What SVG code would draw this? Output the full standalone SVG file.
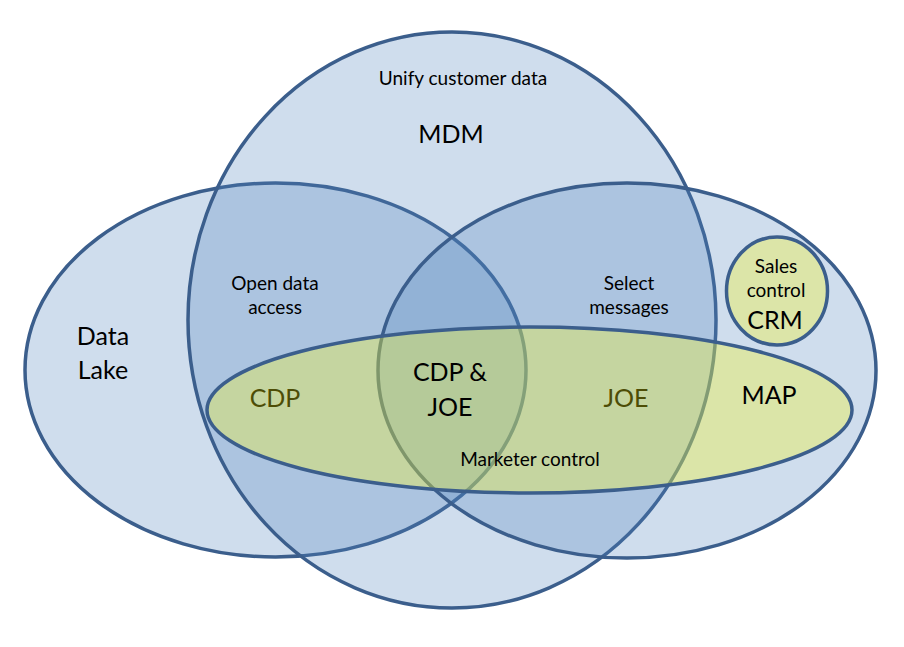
<svg xmlns="http://www.w3.org/2000/svg" width="904" height="647" viewBox="0 0 904 647">
<style>
.blue{fill:#4f81bd;fill-opacity:0.27;stroke:#3b5e8c;stroke-width:3.5}
.green{fill:#f0f336;fill-opacity:0.38;stroke:#3b5e8c;stroke-width:3.5}
.crm{fill:#dce5a8;stroke:#3b5e8c;stroke-width:3.5}
text{font-family:Lato,"Liberation Sans",sans-serif;text-anchor:middle;fill:#000}
.s{font-size:19px}
.l{font-size:25px}
.ol{fill:#4d4d06}
</style>
<rect width="904" height="647" fill="#fff"/>
<g id="data-lake"><ellipse class="blue" cx="275.5" cy="370" rx="250.5" ry="187"/></g>
<g id="mdm"><ellipse class="blue" cx="452" cy="320" rx="264" ry="288"/></g>
<g id="map"><ellipse class="blue" cx="627" cy="370.5" rx="249" ry="187.5"/></g>
<g id="marketer-control"><ellipse class="green" cx="529.5" cy="410" rx="322.5" ry="83"/></g>
<g id="crm"><ellipse class="crm" cx="777" cy="291" rx="50.5" ry="54"/>
<text class="s" x="776" y="273">Sales</text>
<text class="s" x="776" y="297">control</text>
<text class="l" x="775" y="329">CRM</text></g>
<g id="labels">
<g id="lbl-mdm"><text class="s" x="463" y="85">Unify customer data</text><text class="l" x="451" y="143">MDM</text></g>
<g id="lbl-lake"><text class="l" x="103" y="345">Data</text><text class="l" x="103" y="379">Lake</text></g>
<g id="lbl-open"><text class="s" x="275" y="290">Open data</text><text class="s" x="275" y="314">access</text></g>
<g id="lbl-select"><text class="s" x="629" y="290">Select</text><text class="s" x="629" y="314">messages</text></g>
<g id="lbl-cdp"><text class="l ol" x="275" y="407">CDP</text></g>
<g id="lbl-cdpjoe"><text class="l" x="450" y="381">CDP &amp;</text><text class="l" x="450" y="416">JOE</text></g>
<g id="lbl-joe"><text class="l ol" x="626" y="407">JOE</text></g>
<g id="lbl-map"><text class="l" x="769" y="404">MAP</text></g>
<g id="lbl-marketer"><text class="s" x="530" y="466">Marketer control</text></g>
</g>
</svg>
